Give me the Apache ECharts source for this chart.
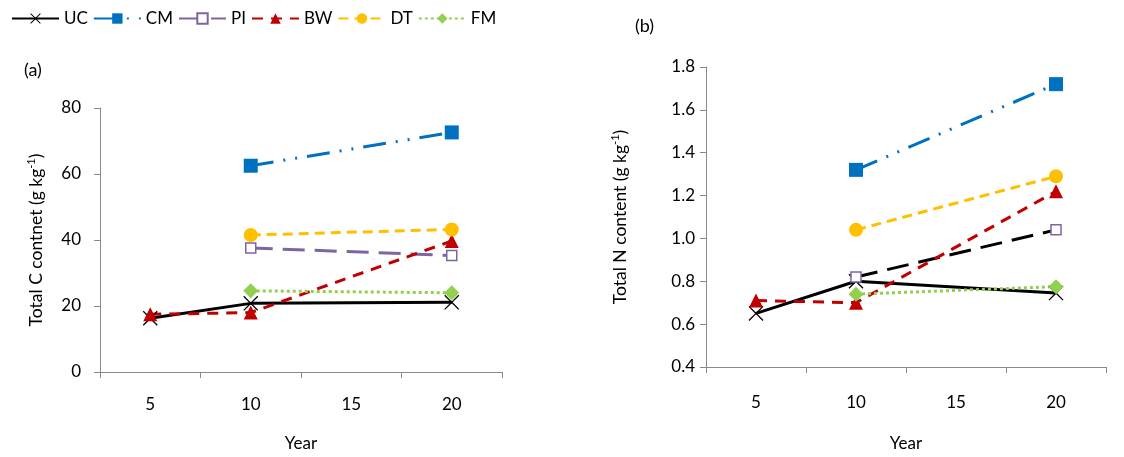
<!DOCTYPE html>
<html>
<head>
<meta charset="utf-8">
<script src="https://cdn.jsdelivr.net/npm/echarts@6.0.0/dist/echarts.min.js"></script>
<style>
  html, body { margin: 0; padding: 0; background: #fff; }
  #chart { width: 1124px; height: 457px; }
</style>
</head>
<body>
<div id="chart"></div>
<script>
  // categories (years) shared by both panels
  const years = ["5", "10", "15", "20"];
  const seriesNames = ["UC", "CM", "PI", "BW", "DT", "FM"];

  // panel (a) total C (g/kg)
  const cUC = [16.3, 20.8, null, 21.1];
  const cCM = [null, 62.5, null, 72.6];
  const cPI = [null, 37.6, null, 35.3];
  const cBW = [17.5, 18.0, null, 39.7];
  const cDT = [null, 41.5, null, 43.2];
  const cFM = [null, 24.6, null, 24.0];

  // panel (b) total N (g/kg)
  const nUC = [0.65, 0.80, null, 0.745];
  const nCM = [null, 1.32, null, 1.72];
  const nPI = [null, 0.82, null, 1.04];
  const nBW = [0.71, 0.70, null, 1.22];
  const nDT = [null, 1.04, null, 1.29];
  const nFM = [null, 0.74, null, 0.775];

  const FONT = "Lato";
  const AXIS_GRAY = "#898989";

  // filled X shape, the library has no cross marker
  const crossSymbol = "path://M0,1 L1,0 L8,7 L15,0 L16,1 L9,8 L16,15 L15,16 L8,9 L1,16 L0,15 L7,8 Z";

  const styles = {
    UC: { color: "#000000", dash: "solid", symbol: crossSymbol, size: 15, fill: "#000000" },
    CM: { color: "#0070C0", dash: [23, 10, 2, 10, 2, 10], symbol: "rect", size: 14, fill: "#0070C0" },
    PI: { color: "#8064A2", dash: [22, 10], symbol: "rect", size: 10, fill: "#ffffff" },
    BW: { color: "#C00000", dash: [11, 8], symbol: "triangle", size: 14, fill: "#C00000" },
    DT: { color: "#FFC000", dash: [10, 6], symbol: "circle", size: 14, fill: "#FFC000" },
    FM: { color: "#92D050", dash: [3, 3], symbol: "diamond", size: 15, fill: "#92D050" }
  };

  function makeSeries(name, data, idx, lineColor) {
    const s = styles[name];
    const open = s.fill === "#ffffff";
    return {
      name: name,
      type: "line",
      xAxisIndex: idx,
      yAxisIndex: idx,
      data: data,
      connectNulls: true,
      symbol: s.symbol,
      symbolSize: s.size,
      showAllSymbol: true,
      lineStyle: { color: lineColor || s.color, width: 3, type: s.dash, cap: "butt" },
      itemStyle: {
        color: s.fill,
        borderColor: s.color,
        borderWidth: open ? 1.5 : 0
      },
      emphasis: { disabled: true },
      animation: false
    };
  }

  function xAxis(idx, margin, nameGap) {
    return {
      type: "category",
      gridIndex: idx,
      data: years,
      boundaryGap: true,
      name: "Year",
      nameLocation: "middle",
      nameGap: nameGap,
      nameTextStyle: { fontFamily: FONT, fontSize: 17, color: "#000" },
      axisLine: { lineStyle: { color: AXIS_GRAY, width: 1 } },
      axisTick: { show: true, length: 6, lineStyle: { color: AXIS_GRAY } },
      axisLabel: { fontFamily: FONT, fontSize: 17, color: "#000", margin: margin },
      splitLine: { show: false }
    };
  }

  function yAxis(idx, min, max, interval, name, nameGap, margin, fmt) {
    return {
      type: "value",
      gridIndex: idx,
      min: min,
      max: max,
      interval: interval,
      name: name,
      nameLocation: "middle",
      nameGap: nameGap,
      nameTextStyle: {
        fontFamily: FONT, fontSize: 17.5, color: "#000",
        rich: { sup: { fontFamily: FONT, fontSize: 11, verticalAlign: "top", padding: [0, 0, 9, 0] } }
      },
      axisLine: { show: true, lineStyle: { color: AXIS_GRAY, width: 1 } },
      axisTick: { show: true, length: 6, lineStyle: { color: AXIS_GRAY } },
      axisLabel: { fontFamily: FONT, fontSize: 17, color: "#000", margin: margin, formatter: fmt },
      splitLine: { show: false }
    };
  }

  const chart = echarts.init(document.getElementById("chart"), null, { renderer: "canvas" });

  const series = [];
  const dataC = { UC: cUC, CM: cCM, PI: cPI, BW: cBW, DT: cDT, FM: cFM };
  const dataN = { UC: nUC, CM: nCM, PI: nPI, BW: nBW, DT: nDT, FM: nFM };
  seriesNames.forEach(function (n) { series.push(makeSeries(n, dataC[n], 0)); });
  seriesNames.forEach(function (n) {
    // PI line in panel (b) is drawn black in the original
    series.push(makeSeries(n, dataN[n], 1, n === "PI" ? "#000000" : null));
  });

  chart.setOption({
    backgroundColor: "#ffffff",
    animation: false,
    legend: {
      data: seriesNames,
      left: 6,
      top: 5,
      itemWidth: 47,
      itemHeight: 13,
      itemGap: 5,
      textStyle: { fontFamily: FONT, fontSize: 17, color: "#000" },
      selectedMode: false
    },
    graphic: [
      { type: "text", left: 24, top: 61, style: { text: "(a)", font: "18px " + FONT, fill: "#000" } },
      { type: "text", left: 635, top: 17, style: { text: "(b)", font: "18px " + FONT, fill: "#000" } }
    ],
    grid: [
      { left: 100, top: 108, width: 402, height: 264 },
      { left: 706, top: 67, width: 400, height: 300 }
    ],
    xAxis: [xAxis(0, 24, 63), xAxis(1, 27, 68)],
    yAxis: [
      yAxis(0, 0, 80, 20, "Total C contnet (g kg{sup|-1})", 54, 19, null),
      yAxis(1, 0.4, 1.8, 0.2, "Total N content (g kg{sup|-1})", 76, 11, function (v) { return v.toFixed(1); })
    ],
    series: series
  });
</script>
</body>
</html>
